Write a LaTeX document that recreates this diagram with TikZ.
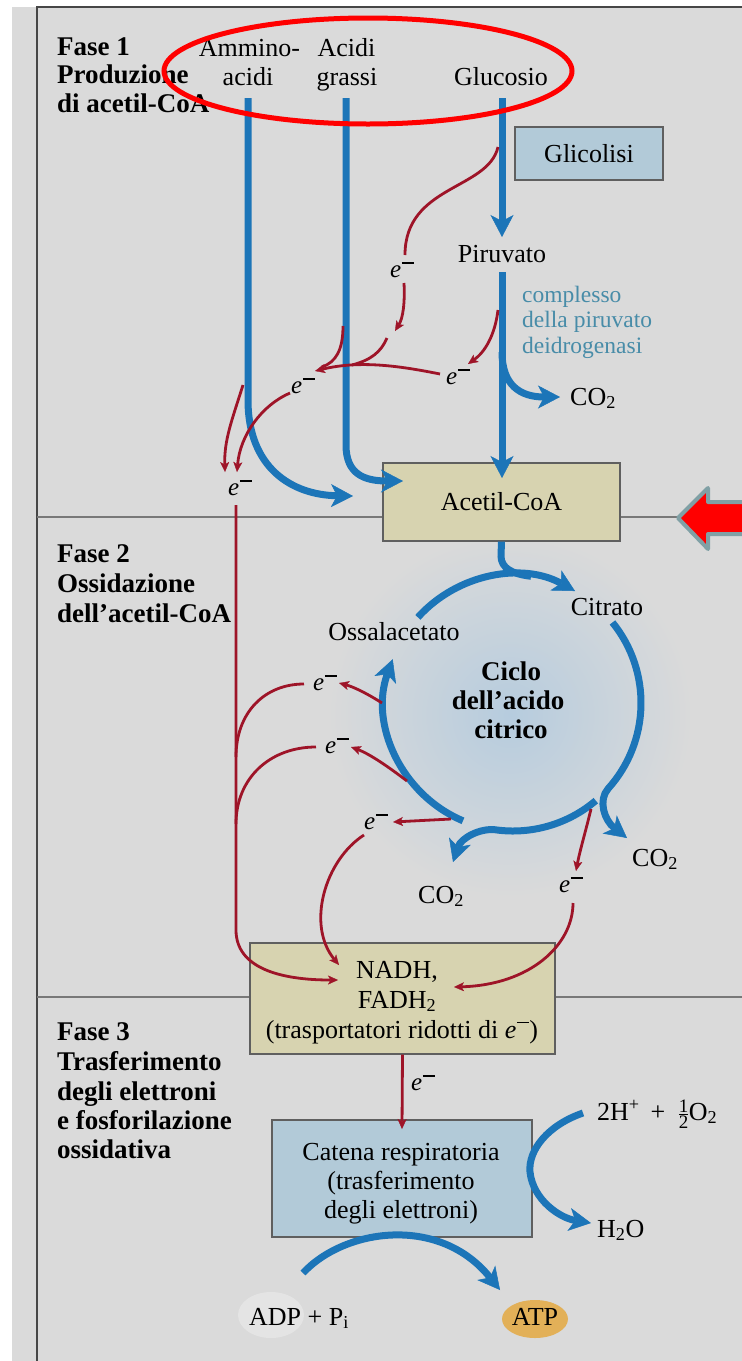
\documentclass[tikz,border=0pt]{standalone}
\usepackage{fontspec}
\setmainfont{Liberation Serif}
\usetikzlibrary{arrows.meta,calc}
\definecolor{bgc}{RGB}{218,218,218}
\definecolor{pblue}{RGB}{28,117,184}
\definecolor{ered}{RGB}{158,20,40}
\definecolor{boxblue}{RGB}{178,202,216}
\definecolor{boxbeige}{RGB}{215,211,176}
\definecolor{enzteal}{RGB}{72,140,168}
\definecolor{edgegrey}{RGB}{95,95,95}
\definecolor{divgrey}{RGB}{120,120,120}
\definecolor{framec}{RGB}{70,70,70}
\definecolor{cycin}{RGB}{182,204,222}
\definecolor{atpor}{RGB}{226,176,88}
\definecolor{adpgr}{RGB}{228,228,228}
\definecolor{markred}{RGB}{255,0,0}
\definecolor{markedge}{RGB}{128,160,165}
\newcommand\elec{\textit{e}\kern0.6pt\raisebox{0.56em}{\rule{0.48em}{0.055em}}}
\newcommand\fsz[1]{\fontsize{#1}{#1}\selectfont}
\newcommand\halfstack{\raisebox{-8.5pt}{\vbox{\hbox{\fsz{19}1}\kern1.2pt\hrule height 0.7pt\kern1.6pt\hbox{\fsz{19}2}}}}
\tikzset{
  lab/.style={font=\fsz{26}, inner sep=0pt},
  fase/.style={font=\fsz{27}\bfseries, inner sep=0pt, anchor=base west},
  cyctxt/.style={font=\fsz{27}\bfseries, inner sep=0pt, anchor=base},
  enz/.style={font=\fsz{23.5}, text=enzteal, inner sep=0pt, anchor=base west},
  elab/.style={font=\fsz{25}, inner sep=0pt},
  bflow/.style={draw=pblue, line width=7pt, -{Stealth[length=22pt,width=23pt,inset=6pt,line width=0.5pt]}},
  bline/.style={draw=pblue, line width=7pt},
  rflow/.style={draw=ered, line width=2.8pt, -{Stealth[length=10pt,width=9pt,inset=2.5pt,line width=0.3pt]}},
  rline/.style={draw=ered, line width=2.8pt},
  bluebox/.style={draw=edgegrey, line width=1.2pt, fill=boxblue, inner sep=0pt},
  beigebox/.style={draw=edgegrey, line width=1.2pt, fill=boxbeige, inner sep=0pt},
}
\begin{document}
\begin{tikzpicture}[x=1pt,y=-1pt]
\useasboundingbox (0,0) rectangle (742,1361);
\clip (0,0) rectangle (742,1361);
\fill[white] (0,0) rectangle (742,1361);
\fill[bgc] (12,7) rectangle (742,1361);
% cycle glow
\shade[inner color=cycin, outer color=bgc] (510,715) circle (182);
% frame and dividers
\draw[framec, line width=1.3pt] (37,1361) -- (37,7) -- (742,7);
\draw[divgrey, line width=1.6pt] (37,517) -- (742,517);
\draw[divgrey, line width=1.6pt] (37,997) -- (742,997);

% boxes
\node[bluebox, minimum width=148pt, minimum height=53pt, font=\fsz{26}] (glic) at (589,153.5) {Glicolisi};
\node[beigebox, minimum width=237pt, minimum height=78pt, font=\fsz{26}] (acoa) at (501.5,502) {Acetil-CoA};
\node[beigebox, minimum width=305pt, minimum height=111pt] (nadh) at (402.5,998.5) {};
\node[bluebox, minimum width=260pt, minimum height=117pt] (catena) at (402,1178.5) {};
\fill[adpgr] (271,1315) ellipse [x radius=33, y radius=23];
\fill[atpor] (535,1319) ellipse [x radius=33, y radius=19];

% ---------- Phase 1 texts
\node[fase] (f1a) at (57,55) {Fase 1};
\node[fase] (f1b) at (57,83.5) {Produzione};
\node[fase] (f1c) at (57,112) {di acetil-CoA};
\node[lab, anchor=base] (amm1) at (249.5,56) {Ammino-};
\node[lab, anchor=base] (amm2) at (248,85) {acidi};
\node[lab, anchor=base] (ag1) at (346.5,56) {Acidi};
\node[lab, anchor=base] (ag2) at (347,85) {grassi};
\node[lab, anchor=base] (gluc) at (501,85) {Glucosio};
\node[lab, anchor=base] (piru) at (502,262) {Piruvato};
\node[enz] (enz1) at (522,302) {complesso};
\node[enz] (enz2) at (522,327) {della piruvato};
\node[enz] (enz3) at (522,353) {deidrogenasi};
\node[lab, anchor=base west] (co2a) at (570,405) {CO\textsubscript{2}};

% blue flows phase 1
\coordinate (amTop) at (248,98);
\coordinate (agTop) at (346,98);
\coordinate (glTop) at (502,98);
\coordinate (piruIn) at (502,237);
\coordinate (piruOut) at (502,272);
\draw[bflow] (amTop) -- (248,400) .. controls (248,468) and (292,495) .. (353,496);
\draw[bflow] (agTop) -- (346,445) .. controls (346,474) and (364,481) .. (403,481);
\draw[bflow] (glTop) -- (piruIn);
\draw[bflow] (piruOut) -- (502,478);
\draw[bflow] (502,352) .. controls (502,385) and (520,397) .. (560,397);

% red electrons phase 1
\node[elab] (e1) at (402,270) {\elec};
\node[elab] (e2) at (303,386) {\elec};
\node[elab] (e3) at (458,377) {\elec};
\node[elab] (e4) at (240,488) {\elec};
\draw[rline] (498,147) .. controls (488,190) and (405,185) .. (405,255);
\draw[rflow] (404,283) .. controls (405,303) and (403,318) .. (395,331);
\draw[rline] (387,338) .. controls (381,352) and (371,360) .. (352,365);
\draw[rflow] (440,374) .. controls (400,366) and (360,360) .. (315,371);
\draw[rline] (343,326) .. controls (343,350) and (336,362) .. (322,367);
\draw[rflow] (498,310) .. controls (495,335) and (485,352) .. (468,364);
\draw[rflow] (290,393) .. controls (262,405) and (240,435) .. (237,472);
\draw[rflow] (243,385) .. controls (232,420) and (224,440) .. (225,472);
\draw[rflow] (236,505) -- (236,930) .. controls (236,968) and (280,980) .. (338,980);

% ---------- Phase 2
\node[fase] (f2a) at (57,562) {Fase 2};
\node[fase] (f2b) at (57,592) {Ossidazione};
\node[fase] (f2c) at (57,622) {dell’acetil-CoA};
\node[lab, anchor=base] (ossal) at (394,640) {Ossalacetato};
\node[lab, anchor=base] (citr) at (607,615) {Citrato};
\node[cyctxt] (cy1) at (511,680) {Ciclo};
\node[cyctxt] (cy2) at (508,709) {dell’acido};
\node[cyctxt] (cy3) at (511,738) {citrico};
\node[lab, anchor=base west] (co2b) at (632,866) {CO\textsubscript{2}};
\node[lab, anchor=base west] (co2c) at (418,903) {CO\textsubscript{2}};

\coordinate (cc) at (513,703);
\draw[bline] (acoa.south) -- (501,556) .. controls (501,568) and (512,574) .. (531,576.3);
\draw[bflow] ($(cc)+({128*cos(-138)},{128*sin(-138)})$) arc[start angle=-138,end angle=-61,radius=128];
\draw[bflow] ($(cc)+({128*cos(-39)},{128*sin(-39)})$) arc[start angle=-39,end angle=42,radius=128]
   .. controls (598,800) and (604,820) .. (627,838);
\draw[bflow] ($(cc)+({128*cos(49.7)},{128*sin(49.7)})$) arc[start angle=49.7,end angle=98,radius=128]
   .. controls (480,828) and (461,838) .. (453,862);
\draw[bflow] ($(cc)+({128*cos(113)},{128*sin(113)})$) arc[start angle=113,end angle=200,radius=128];

\node[elab] (e5) at (325,683) {\elec};
\node[elab] (e6) at (337,746) {\elec};
\node[elab] (e7) at (376,822) {\elec};
\node[elab] (e8) at (571,885) {\elec};
\draw[rflow] (382,703) .. controls (368,694) and (354,687) .. (339,683);
\draw[rflow] (407,781) .. controls (390,768) and (370,754) .. (351,747);
\draw[rflow] (451,819) -- (393,822);
\draw[rflow] (591,809) .. controls (586,830) and (580,850) .. (576,871);
\draw[rline] (304,684) .. controls (265,684) and (236,712) .. (236,757);
\draw[rline] (316,747) .. controls (270,747) and (236,778) .. (236,824);
\draw[rflow] (364,835) .. controls (325,860) and (306,925) .. (339,965);
\draw[rflow] (573,903) .. controls (573,945) and (530,985) .. (454,987);

\node[lab, anchor=base] (nt1) at (397,978) {NADH,};
\node[lab, anchor=base] (nt2) at (397,1008) {FADH\textsubscript{2}};
\node[lab, anchor=base] (nt3) at (402,1038) {(trasportatori ridotti di \elec)};

% ---------- Phase 3
\node[fase] (f3a) at (57,1040) {Fase 3};
\node[fase] (f3b) at (57,1070) {Trasferimento};
\node[fase] (f3c) at (57,1100) {degli elettroni};
\node[fase] (f3d) at (57,1129) {e fosforilazione};
\node[fase] (f3e) at (57,1158) {ossidativa};

\node[elab] (e9) at (423,1083) {\elec};
\draw[rflow] (nadh.south) -- (402,1129);
\node[lab, anchor=base] (ct1) at (401,1160) {Catena respiratoria};
\node[lab, anchor=base] (ct2) at (401,1189) {(trasferimento};
\node[lab, anchor=base] (ct3) at (401,1218) {degli elettroni)};

\node[lab, anchor=base west] (ox) at (597,1120) {2H\textsuperscript{+}\, + \;\halfstack\kern0.5ptO\textsubscript{2}};
\node[lab, anchor=base west] (h2o) at (597,1237) {H\textsubscript{2}O};
\coordinate (oxIn) at (583,1113);
\draw[bflow] (oxIn) .. controls (548,1125) and (528,1150) .. (530,1172) .. controls (533,1200) and (560,1218) .. (591,1223);

\node[lab, anchor=base west] (adp) at (249,1325) {ADP + P\textsubscript{i}};
\node[lab, anchor=base] (atp) at (535,1325) {ATP};
\draw[bflow] (303,1273) .. controls (345,1228) and (440,1215) .. (500,1290);

% annotations
\draw[markred, line width=5pt] (368,71) ellipse [x radius=204, y radius=53];
\draw[markedge, line width=4pt, fill=markred, line join=round] (678,518) -- (708,488) -- (708,502) -- (760,502) -- (760,534) -- (708,534) -- (708,549) -- cycle;
\end{tikzpicture}
\end{document}
